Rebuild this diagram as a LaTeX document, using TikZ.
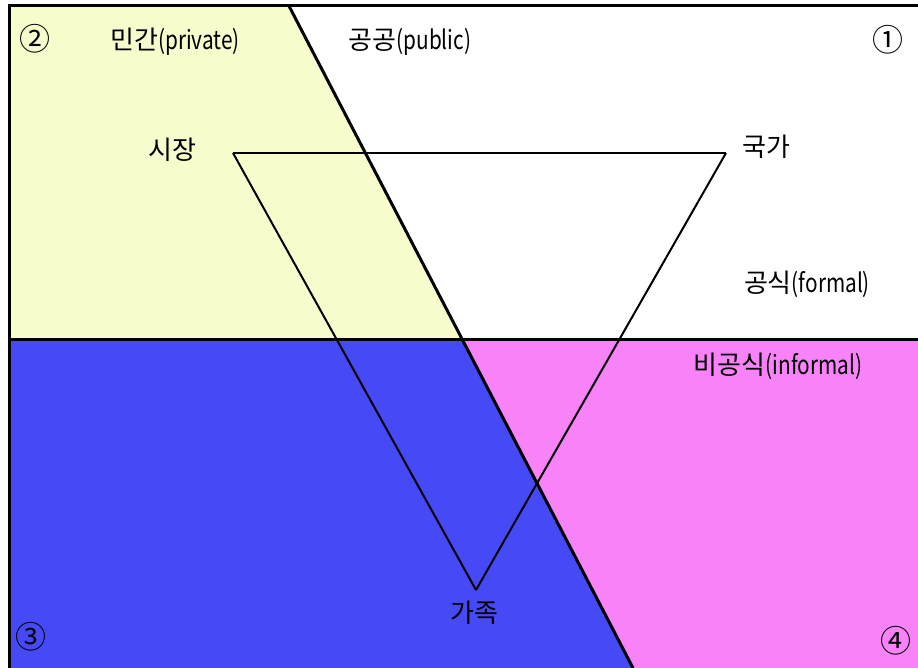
\documentclass[tikz,border=0pt]{standalone}
\usepackage{fontspec}
\setmainfont{Noto Sans CJK KR}
\newfontfamily\latn[FakeStretch=0.8]{Noto Sans CJK KR}
\definecolor{privyellow}{RGB}{248,252,204}
\definecolor{famblue}{RGB}{70,74,246}
\definecolor{infpink}{RGB}{248,130,248}
\tikzset{
  frameline/.style={line width=3pt, black},
  triline/.style={line width=2pt, black},
  lbl/.style={font=\fontsize{26}{30}\selectfont, inner sep=0pt, anchor=center},
  num/.style={font=\fontsize{31}{34}\selectfont, inner sep=0pt, anchor=center}
}
\begin{document}
\begin{tikzpicture}[x=1pt,y=-1pt]
\useasboundingbox (0,0) rectangle (918,668);
\fill[white] (0,0) rectangle (918,668);
% coordinates
\coordinate (tl) at (9,6);
\coordinate (tr) at (918,6);
\coordinate (dtop) at (289,6);
\coordinate (dmid) at (463,339);
\coordinate (dbot) at (633,668);
\coordinate (ml) at (9,339);
\coordinate (mr) at (918,339);
\coordinate (bl) at (9,668);
\coordinate (br) at (918,668);
% regions
\fill[privyellow] (tl) -- (dtop) -- (dmid) -- (ml) -- cycle;
\fill[famblue] (ml) -- (dmid) -- (dbot) -- (bl) -- cycle;
\fill[infpink] (dmid) -- (mr) -- (br) -- (dbot) -- cycle;
% frame lines
\draw[frameline] (bl) -- (tl) -- (tr);
\draw[frameline] (ml) -- (mr);
\draw[frameline] (dtop) -- (dbot);
% triangle
\coordinate (vm) at (233,153);
\coordinate (vs) at (726,153);
\coordinate (vf) at (476,590);
\draw[triline] (vm) -- (vs);
\draw[triline] (vm) -- (vf);
\draw[triline] (vs) -- (vf);
% labels
\node[num] (n2) at (35,39) {②};
\node[num] (n1) at (888,40) {①};
\node[num] (n3) at (31,637) {③};
\node[num] (n4) at (896,641) {④};
\node[lbl] (private) at (175,42) {민간{\latn(private)}};
\node[lbl] (public) at (410,42) {공공{\latn(public)}};
\node[lbl] (market) at (172,150) {시장};
\node[lbl] (state) at (766,147) {국가};
\node[lbl] (formal) at (807,284) {공식{\latn(formal)}};
\node[lbl] (informal) at (778,366) {비공식{\latn(informal)}};
\node[lbl] (family) at (474,613) {가족};
\end{tikzpicture}
\end{document}
